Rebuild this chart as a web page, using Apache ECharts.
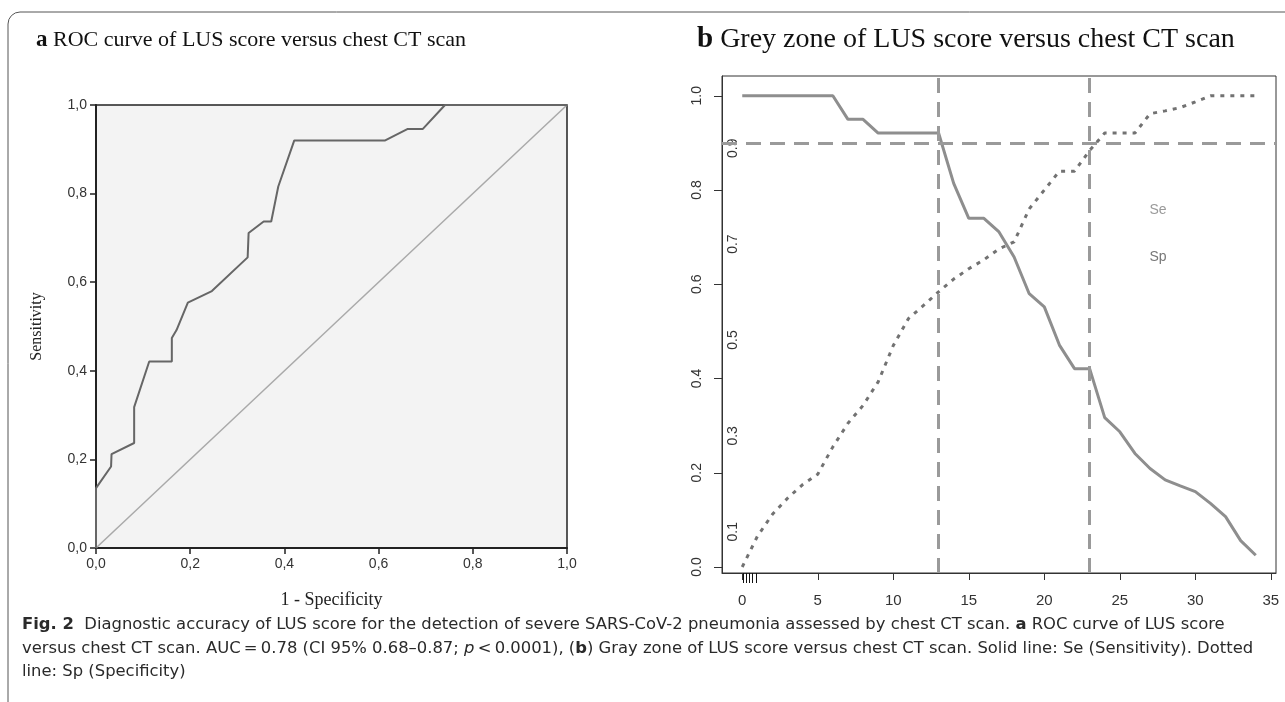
<!DOCTYPE html>
<html>
<head>
<meta charset="utf-8">
<script src="https://cdn.jsdelivr.net/npm/echarts@6/dist/echarts.min.js"></script>
<style>
html, body { margin: 0; padding: 0; background: #fff; }
#chart { width: 1285px; height: 702px; }
</style>
</head>
<body>
<div id="chart"></div>
<script>
// panel a: ROC curve of LUS score (1 - specificity vs sensitivity)
const rocFpr = [0, 0, 0.032, 0.033, 0.081, 0.081, 0.113, 0.161, 0.161, 0.171, 0.195, 0.246, 0.322, 0.324, 0.356, 0.372, 0.387, 0.421, 0.614, 0.662, 0.694, 0.741, 1.0];
const rocTpr = [0, 0.135, 0.184, 0.212, 0.237, 0.318, 0.421, 0.421, 0.474, 0.492, 0.554, 0.580, 0.656, 0.711, 0.737, 0.737, 0.816, 0.920, 0.920, 0.946, 0.946, 1.0, 1.0];
const chanceLine = [0, 1];

// panel b: grey zone, Se and Sp by LUS score cut-off
const lusScore = [0, 1, 2, 3, 4, 5, 6, 7, 8, 9, 10, 11, 12, 13, 14, 15, 16, 17, 18, 19, 20, 21, 22, 23, 24, 25, 26, 27, 28, 29, 30, 31, 32, 33, 34];
const seValues = [1, 1, 1, 1, 1, 1, 1, 0.95, 0.95, 0.921, 0.921, 0.921, 0.921, 0.921, 0.814, 0.74, 0.74, 0.711, 0.658, 0.58,
  0.552, 0.471, 0.421, 0.421, 0.317, 0.287, 0.241, 0.209, 0.185, 0.172, 0.16, 0.135, 0.107, 0.056, 0.025];
const spValues = [0, 0.065, 0.112, 0.146, 0.175, 0.197, 0.255, 0.305, 0.343, 0.393, 0.47, 0.527, 0.555, 0.584, 0.611, 0.633, 0.652, 0.675, 0.69, 0.76,
  0.80, 0.84, 0.84, 0.884, 0.921, 0.921, 0.921, 0.962, 0.968, 0.975, 0.987, 1, 1, 1, 1];
const greyZoneBounds = [13, 23];
const targetLevel = 0.9;
const rugValues = [0.05, 0.25, 0.45, 0.65, 0.9];
const scoreTicks = [0, 5, 10, 15, 20, 25, 30, 35];
const probTicks = [0, 0.2, 0.4, 0.6, 0.8, 1.0];
const probTicksInner = [0.1, 0.3, 0.5, 0.7, 0.9];

const sans = 'Liberation Sans, Arial, sans-serif';
const serif = 'Liberation Serif, Times New Roman, serif';
const capFont = 'DejaVu Sans, Noto Sans, sans-serif';
const comma = v => v.toFixed(1).replace('.', ',');

const chart = echarts.init(document.getElementById('chart'));

chart.setOption({
  animation: false,
  backgroundColor: '#fff',
  grid: [
    { left: 96, top: 105, width: 471, height: 443, show: true, backgroundColor: '#f3f3f3', borderColor: '#222', borderWidth: 1.5 },
    { left: 722, top: 76, width: 554, height: 497, show: true, backgroundColor: 'transparent', borderColor: '#333', borderWidth: 1 }
  ],
  xAxis: [
    {
      gridIndex: 0, type: 'value', min: 0, max: 1, interval: 0.2,
      name: '1 - Specificity', nameLocation: 'middle', nameGap: 43,
      nameTextStyle: { fontFamily: serif, fontSize: 18, color: '#222' },
      axisLine: { onZero: false, lineStyle: { color: '#222', width: 2 } },
      axisTick: { length: 6, lineStyle: { color: '#222', width: 1.5 } },
      axisLabel: { margin: 9, fontFamily: sans, fontSize: 14, color: '#333', formatter: comma, showMinLabel: true, showMaxLabel: true },
      splitLine: { show: false }
    },
    {
      gridIndex: 1, type: 'value', min: -1.34, max: 35.34,
      axisLine: { onZero: false, lineStyle: { color: '#333', width: 1 } },
      axisTick: { length: 7, customValues: scoreTicks, lineStyle: { color: '#333' } },
      axisLabel: { margin: 20, fontFamily: sans, fontSize: 15, color: '#333', customValues: scoreTicks },
      splitLine: { show: false }
    },
    {
      // rug of observed scores under the axis
      gridIndex: 1, type: 'value', min: -1.34, max: 35.34, position: 'bottom',
      axisLine: { show: false, onZero: false },
      axisTick: { length: 10, customValues: rugValues, lineStyle: { color: '#111', width: 1 } },
      axisLabel: { show: false },
      splitLine: { show: false }
    }
  ],
  yAxis: [
    {
      gridIndex: 0, type: 'value', min: 0, max: 1, interval: 0.2,
      name: 'Sensitivity', nameLocation: 'middle', nameGap: 51,
      nameTextStyle: { fontFamily: serif, fontSize: 16, color: '#222' },
      axisLine: { onZero: false, lineStyle: { color: '#222', width: 2 } },
      axisTick: { length: 6, lineStyle: { color: '#222', width: 1.5 } },
      axisLabel: { margin: 9, fontFamily: sans, fontSize: 14, color: '#333', formatter: comma, showMinLabel: true, showMaxLabel: true },
      splitLine: { show: false }
    },
    {
      gridIndex: 1, type: 'value', min: -0.0127, max: 1.042, position: 'left',
      axisLine: { show: true, onZero: false, lineStyle: { color: '#333', width: 1 } },
      axisTick: { length: 8, customValues: probTicks, lineStyle: { color: '#333' } },
      axisLabel: { margin: 18, rotate: 90, fontFamily: sans, fontSize: 14, color: '#333', customValues: probTicks, formatter: v => v.toFixed(1) },
      splitLine: { show: false }
    },
    {
      gridIndex: 1, type: 'value', min: 0.0138, max: 1.0508, position: 'left', offset: 0,
      axisLine: { show: false, onZero: false },
      axisTick: { show: false },
      axisLabel: { inside: true, margin: 4, rotate: 90, fontFamily: sans, fontSize: 14, color: '#333', customValues: probTicksInner, formatter: v => v.toFixed(1) },
      splitLine: { show: false }
    }
  ],
  series: [
    {
      name: 'chance', type: 'line', xAxisIndex: 0, yAxisIndex: 0,
      data: chanceLine.map(v => [v, v]),
      symbol: 'none', lineStyle: { color: '#a9a9a9', width: 1.5 }, silent: true
    },
    {
      name: 'ROC', type: 'line', xAxisIndex: 0, yAxisIndex: 0,
      data: rocFpr.map((x, i) => [x, rocTpr[i]]),
      symbol: 'none', lineStyle: { color: '#666', width: 2 }
    },
    {
      name: 'Se', type: 'line', xAxisIndex: 1, yAxisIndex: 1,
      data: lusScore.map((x, i) => [x, seValues[i]]),
      symbol: 'none', lineStyle: { color: '#8e8e8e', width: 3 },
      markLine: {
        silent: true, symbol: ['none', 'none'], label: { show: false },
        lineStyle: { color: '#9a9a9a', width: 3, type: [15, 9] },
        data: [{ yAxis: targetLevel }].concat(greyZoneBounds.map(b => ({ xAxis: b })))
      }
    },
    {
      name: 'Sp', type: 'line', xAxisIndex: 1, yAxisIndex: 1,
      data: lusScore.map((x, i) => [x, spValues[i]]),
      symbol: 'none', lineStyle: { color: '#727272', width: 3, type: [4, 6] }
    }
  ],
  graphic: [
    {
      type: 'rect', shape: { x: 8, y: 12, width: 1300, height: 720, r: 12 },
      style: { fill: 'none', stroke: '#555', lineWidth: 1 }, silent: true
    },
    {
      type: 'text', left: 36, top: 29,
      style: {
        text: '{b|a} ROC curve of LUS score versus chest CT scan',
        font: '22px ' + serif, fill: '#111',
        rich: { b: { fontWeight: 'bold', fontSize: 23, fontFamily: serif } }
      }
    },
    {
      type: 'text', left: 697, top: 25,
      style: {
        text: '{b|b} Grey zone of LUS score versus chest CT scan',
        font: '28px ' + serif, fill: '#111',
        rich: { b: { fontWeight: 'bold', fontSize: 29, fontFamily: serif } }
      }
    },
    { type: 'text', x: 1158, y: 210, style: { text: 'Se', font: '14px ' + sans, fill: '#9a9a9a', align: 'center', verticalAlign: 'middle' } },
    { type: 'text', x: 1158, y: 257, style: { text: 'Sp', font: '14px ' + sans, fill: '#777', align: 'center', verticalAlign: 'middle' } },
    {
      type: 'text', left: 22, top: 613,
      style: {
        text: '{b|Fig. 2}  Diagnostic accuracy of LUS score for the detection of severe SARS-CoV-2 pneumonia assessed by chest CT scan. {b|a} ROC curve of LUS score\n' +
          'versus chest CT scan. AUC\u2009=\u20090.78 (CI 95% 0.68\u20130.87; {i|p}\u2009<\u20090.0001), ({b|b}) Gray zone of LUS score versus chest CT scan. Solid line: Se (Sensitivity). Dotted\n' +
          'line: Sp (Specificity)',
        font: '16.4px ' + capFont, fill: '#2a2a2a', lineHeight: 23.5,
        rich: {
          b: { fontWeight: 'bold', fontFamily: capFont, fontSize: 16.4, lineHeight: 23.5 },
          i: { fontStyle: 'italic', fontFamily: capFont, fontSize: 16.4, lineHeight: 23.5 }
        }
      }
    }
  ]
});
</script>
</body>
</html>
